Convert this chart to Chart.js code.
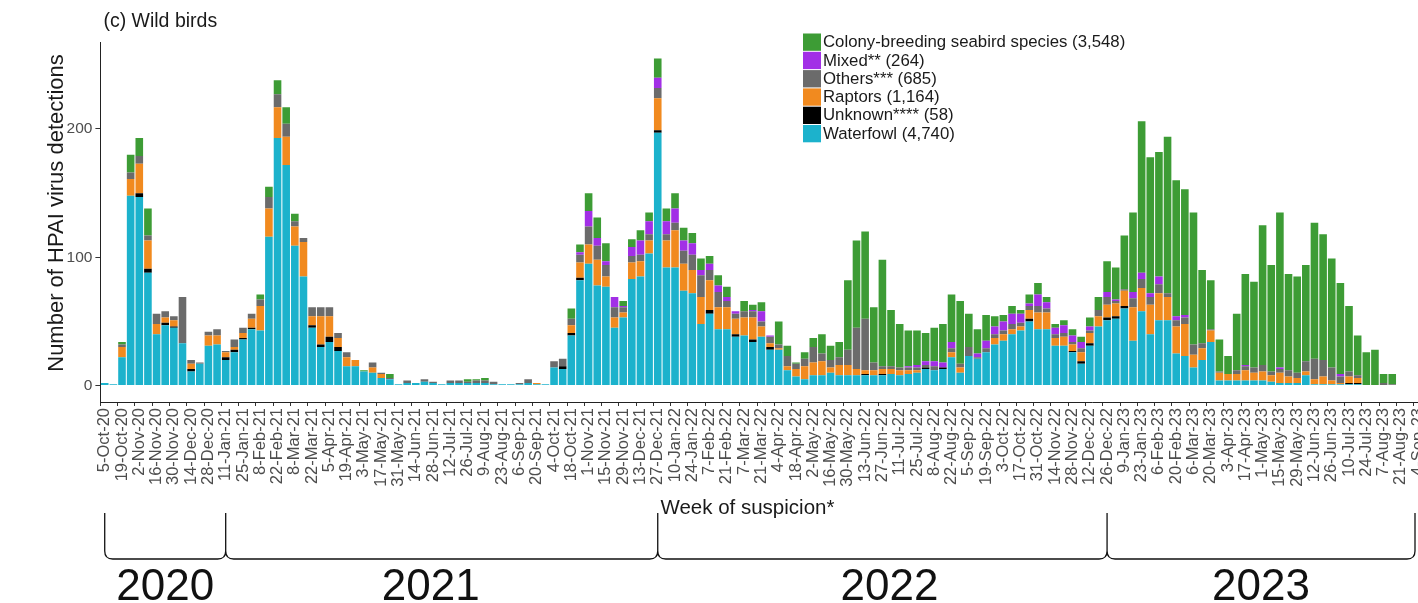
<!DOCTYPE html>
<html><head><meta charset="utf-8">
<script src="https://cdn.jsdelivr.net/npm/chart.js@4/dist/chart.umd.min.js"></script>
<style>
html,body{margin:0;padding:0;background:#fff;overflow:hidden;width:1418px;height:603px}
#wrap{position:relative;width:1440px;height:603px}
canvas{display:block}
</style></head><body>
<div id="wrap"><canvas id="c" width="1440" height="603"></canvas></div>
<script>
const weeks = ['5-Oct-20','12-Oct-20','19-Oct-20','26-Oct-20','2-Nov-20','9-Nov-20','16-Nov-20','23-Nov-20','30-Nov-20','7-Dec-20','14-Dec-20','21-Dec-20','28-Dec-20',
'4-Jan-21','11-Jan-21','18-Jan-21','25-Jan-21','1-Feb-21','8-Feb-21','15-Feb-21','22-Feb-21','1-Mar-21','8-Mar-21','15-Mar-21','22-Mar-21','29-Mar-21','5-Apr-21','12-Apr-21','19-Apr-21','26-Apr-21','3-May-21','10-May-21','17-May-21','24-May-21','31-May-21','7-Jun-21','14-Jun-21','21-Jun-21','28-Jun-21','5-Jul-21','12-Jul-21','19-Jul-21','26-Jul-21','2-Aug-21','9-Aug-21','16-Aug-21','23-Aug-21','30-Aug-21','6-Sep-21','13-Sep-21','20-Sep-21','27-Sep-21','4-Oct-21','11-Oct-21','18-Oct-21','25-Oct-21','1-Nov-21','8-Nov-21','15-Nov-21','22-Nov-21','29-Nov-21','6-Dec-21','13-Dec-21','20-Dec-21','27-Dec-21',
'3-Jan-22','10-Jan-22','17-Jan-22','24-Jan-22','31-Jan-22','7-Feb-22','14-Feb-22','21-Feb-22','28-Feb-22','7-Mar-22','14-Mar-22','21-Mar-22','28-Mar-22','4-Apr-22','11-Apr-22','18-Apr-22','25-Apr-22','2-May-22','9-May-22','16-May-22','23-May-22','30-May-22','6-Jun-22','13-Jun-22','20-Jun-22','27-Jun-22','4-Jul-22','11-Jul-22','18-Jul-22','25-Jul-22','1-Aug-22','8-Aug-22','15-Aug-22','22-Aug-22','29-Aug-22','5-Sep-22','12-Sep-22','19-Sep-22','26-Sep-22','3-Oct-22','10-Oct-22','17-Oct-22','24-Oct-22','31-Oct-22','7-Nov-22','14-Nov-22','21-Nov-22','28-Nov-22','5-Dec-22','12-Dec-22','19-Dec-22','26-Dec-22',
'2-Jan-23','9-Jan-23','16-Jan-23','23-Jan-23','30-Jan-23','6-Feb-23','13-Feb-23','20-Feb-23','27-Feb-23','6-Mar-23','13-Mar-23','20-Mar-23','27-Mar-23','3-Apr-23','10-Apr-23','17-Apr-23','24-Apr-23','1-May-23','8-May-23','15-May-23','22-May-23','29-May-23','5-Jun-23','12-Jun-23','19-Jun-23','26-Jun-23','3-Jul-23','10-Jul-23','17-Jul-23','24-Jul-23','31-Jul-23','7-Aug-23','14-Aug-23','21-Aug-23','28-Aug-23','4-Sep-23'];

const waterfowl = [2,1,22,148,147,88,40,47,45,33, 11,17,31,32,20,26,36,44,43,116, 193,172,109,85,45,30,34,27,15,15, 11,10,6,5,1,2,2,3,2,1,
 2,2,2,2,2,1,1,1,1,2, 1,1,14,13,39,82,95,78,77,45, 53,83,85,103,197,92,92,74,72,48, 56,44,44,38,39,34,38,28,28,12,
 7,5,8,8,10,8,8,8,8,8, 8,9,8,9,10,13,12,13,22,10, 23,21,26,32,35,40,43,50,44,44, 31,31,26,17,31,46,51,52,60,35,
 58,40,51,51,25,23,14,20,34,4, 4,4,4,4,4,3,2,2,2,8, 1,1,1,1,1,1,0,0,0,0, 0,0,0];
const unknown = [0,0,0,0,3,3,0,2,1,0, 2,0,0,0,2,2,1,1,0,0, 0,0,0,0,2,2,4,3,0,0, 0,0,0,0,0,0,0,0,0,0,
 0,0,0,0,0,0,0,0,0,0, 0,0,0,2,2,2,0,0,0,0, 0,0,0,0,2,0,0,0,0,0, 3,0,0,2,0,2,0,2,0,0,
 0,0,0,0,0,0,0,0,1,0, 1,0,0,0,0,1,0,1,0,0, 0,0,0,0,0,0,0,2,0,0, 0,0,1,2,2,0,2,2,2,0,
 0,0,0,0,0,0,0,0,0,0, 0,0,0,0,0,0,0,0,0,0, 0,0,0,0,1,1,0,0,0,0, 0,0,0];
const raptors = [0,0,8,13,23,22,8,4,5,0, 4,0,8,7,4,2,4,7,19,22, 24,22,15,27,7,22,16,7,7,5, 0,4,3,0,0,0,0,0,0,0,
 0,0,0,0,0,0,0,0,0,0, 1,0,0,0,6,12,15,20,8,8, 4,13,12,10,25,21,29,21,18,21, 23,17,17,12,14,17,8,3,1,3,
 6,10,10,11,4,8,8,5,3,4, 4,4,4,3,2,0,0,0,4,4, 0,0,0,5,5,4,3,7,13,13, 6,7,5,7,8,8,10,10,12,26,
 18,23,21,18,21,25,10,9,9,6, 5,5,8,6,7,5,8,5,4,3, 4,6,3,1,5,4,0,0,0,0, 0,0,0];
const others = [0,0,2,5,6,4,8,5,3,36, 3,1,3,5,1,6,4,4,5,9, 10,10,4,3,7,7,7,4,4,0, 0,4,1,1,0,2,0,2,1,0,
 2,2,1,2,2,2,0,0,1,3, 0,0,5,6,5,6,14,11,9,8, 4,5,5,5,8,5,6,10,12,17, 8,12,5,4,5,5,4,5,3,8,
 4,6,12,6,6,6,12,32,40,6, 2,2,2,2,2,2,3,0,3,3, 7,1,3,3,3,4,3,3,5,3, 3,3,2,3,2,5,6,2,1,7,
 7,6,7,3,5,5,8,4,1,1, 0,3,3,4,5,3,3,5,4,8, 16,13,10,5,4,2,0,0,2,1, 0,0,0];
const mixed = [0,0,0,0,0,0,0,0,0,0, 0,0,0,0,0,0,0,0,0,0, 0,0,0,0,0,0,0,0,0,0, 0,0,0,0,0,0,0,0,0,0,
 0,0,0,0,0,0,0,0,0,0, 0,0,0,0,0,2,12,6,3,8, 1,7,11,10,8,10,11,8,9,4, 5,5,3,2,0,1,8,1,0,0,
 0,0,0,0,0,0,0,0,0,0, 0,0,0,1,2,3,4,4,5,0, 0,3,6,6,7,8,7,2,9,5, 5,6,5,5,3,0,4,1,0,5,
 5,3,6,0,3,2,0,0,0,0, 0,0,1,0,0,0,1,0,0,0, 0,0,0,2,0,0,0,0,0,0, 0,0,0];
const colony = [0,0,2,14,14,21,0,0,0,0, 0,0,0,0,0,0,0,0,4,8, 11,13,6,0,0,0,0,0,0,0, 1,0,0,3,0,0,0,0,0,0,
 0,0,2,1,2,0,0,0,0,0, 0,0,0,0,8,6,14,16,14,0, 4,6,8,7,15,10,12,10,8,9, 6,8,8,0,8,4,7,0,18,8,
 1,5,7,15,11,12,54,68,68,43, 83,44,34,28,27,22,26,30,37,49, 26,19,20,8,5,6,3,7,9,4, 3,4,5,4,7,10,24,25,42,62,
 118,106,97,122,106,98,103,57,38,25, 14,44,71,67,109,83,121,75,75,75, 106,98,85,71,51,31,26,28,7,8, 0,0,0];

const seriesNames = ['Waterfowl (4,740)','Unknown**** (58)','Raptors (1,164)','Others*** (685)','Mixed** (264)','Colony-breeding seabird species (3,548)'];
const seriesColors = ['#1cb2cc','#000000','#f18a1f','#6b6b6b','#a22fe6','#3d9c35'];
const yTicks = [0,100,200];
const chartTitle = '(c) Wild birds';
const xTitle = 'Week of suspicion*';
const yTitle = 'Number of HPAI virus detections';
const yearBrackets = [['2020','5-Oct-20','11-Jan-21'],['2021','11-Jan-21','27-Dec-21'],['2022','27-Dec-21','26-Dec-22'],['2023','26-Dec-22','4-Sep-23']];
const yearLabelNudge = [0, -11, 7, 0];

const FONT = '"Liberation Sans", Arial, Helvetica, sans-serif';
const seriesData = [waterfowl, unknown, raptors, others, mixed, colony];

const decor = {
  id: 'decor',
  afterDraw(chart) {
    const ctx = chart.ctx, a = chart.chartArea, x = chart.scales.x;
    ctx.save();
    ctx.fillStyle = '#1a1a1a';
    ctx.font = '19.5px ' + FONT; ctx.textAlign = 'left'; ctx.textBaseline = 'alphabetic';
    ctx.fillText(chartTitle, a.left + 3, 27);
    ctx.save();
    ctx.translate(57, (a.top + a.bottom) / 2 - 9);
    ctx.rotate(-Math.PI / 2);
    ctx.textAlign = 'center'; ctx.textBaseline = 'middle';
    ctx.font = '22px ' + FONT;
    ctx.fillText(yTitle, 0, 0);
    ctx.restore();
    ctx.textAlign = 'center'; ctx.textBaseline = 'middle';
    ctx.font = '20.5px ' + FONT;
    ctx.fillText(xTitle, (a.left + a.right) / 2 - 14, 508);
    const lx = 803, ly = 33, rowH = 18.3;
    ctx.font = '16.8px ' + FONT; ctx.textAlign = 'left'; ctx.textBaseline = 'middle';
    for (let k = 0; k < seriesNames.length; k++) {
      const d = seriesNames.length - 1 - k;
      const y0 = ly + k * rowH;
      ctx.fillStyle = seriesColors[d];
      ctx.fillRect(lx, y0 + 0.5, 18, rowH - 1);
      ctx.fillStyle = '#1a1a1a';
      ctx.fillText(seriesNames[d], lx + 20, y0 + rowH / 2 + 0.5);
    }
    ctx.strokeStyle = '#111'; ctx.lineWidth = 1.3;
    const yTop = 513, yMid = 551, yBot = 559, r = 8;
    const px = lab => x.getPixelForValue(weeks.indexOf(lab));
    ctx.beginPath();
    yearBrackets.forEach(([lab, f, t], i) => {
      let xa = px(f), xb = px(t);
      if (i === yearBrackets.length - 1) xb = Math.min(xb, 1415);
      ctx.moveTo(xa, yTop); ctx.lineTo(xa, yMid);
      ctx.moveTo(xb, yTop); ctx.lineTo(xb, yMid);
      ctx.moveTo(xa, yMid); ctx.quadraticCurveTo(xa, yBot, xa + r, yBot);
      ctx.lineTo(xb - r, yBot); ctx.quadraticCurveTo(xb, yBot, xb, yMid);
    });
    ctx.stroke();
    ctx.fillStyle = '#111';
    ctx.font = '44px ' + FONT; ctx.textAlign = 'center'; ctx.textBaseline = 'alphabetic';
    yearBrackets.forEach(([lab, f, t], i) => {
      let xa = px(f), xb = px(t);
      if (i === yearBrackets.length - 1) xb = Math.min(xb, 1415);
      ctx.fillText(lab, (xa + xb) / 2 + yearLabelNudge[i], 600);
    });
    ctx.restore();
  }
};

new Chart(document.getElementById('c'), {
  type: 'bar',
  data: {
    labels: weeks,
    datasets: seriesData.map((d, i) => ({
      label: seriesNames[i], data: d, backgroundColor: seriesColors[i],
      borderWidth: 0, barPercentage: 0.88, categoryPercentage: 1.0
    }))
  },
  options: {
    responsive: false, animation: false, devicePixelRatio: 1,
    layout: { padding: { left: 0, right: 16.3, top: 42, bottom: 0 } },
    plugins: { legend: { display: false }, tooltip: { enabled: false }, title: { display: false } },
    scales: {
      x: {
        stacked: true, offset: true,
        grid: { display: true, drawOnChartArea: false, tickLength: 4, lineWidth: 1,
                color: c => (c.index % 2 === 0 ? '#333' : 'rgba(0,0,0,0)') },
        border: { display: true, color: '#222', width: 1 },
        ticks: { autoSkip: false, maxRotation: 90, minRotation: 90, padding: 2, color: '#4d4d4d',
                 font: { family: FONT, size: 16.5 },
                 callback: (v, i) => (i % 2 === 0 ? weeks[i] : '') },
        afterFit: s => { s.height = 201; }
      },
      y: {
        stacked: true, min: -12.8, max: 267.8,
        afterBuildTicks: s => { s.ticks = yTicks.map(v => ({ value: v })); },
        grid: { display: true, drawOnChartArea: false, tickLength: 5, color: '#333' },
        border: { display: true, color: '#222', width: 1 },
        ticks: { padding: 3, color: '#4d4d4d', font: { family: FONT, size: 15.5 } },
        afterFit: s => { s.width = 100.4; }
      }
    }
  },
  plugins: [decor]
});
</script>
</body></html>
